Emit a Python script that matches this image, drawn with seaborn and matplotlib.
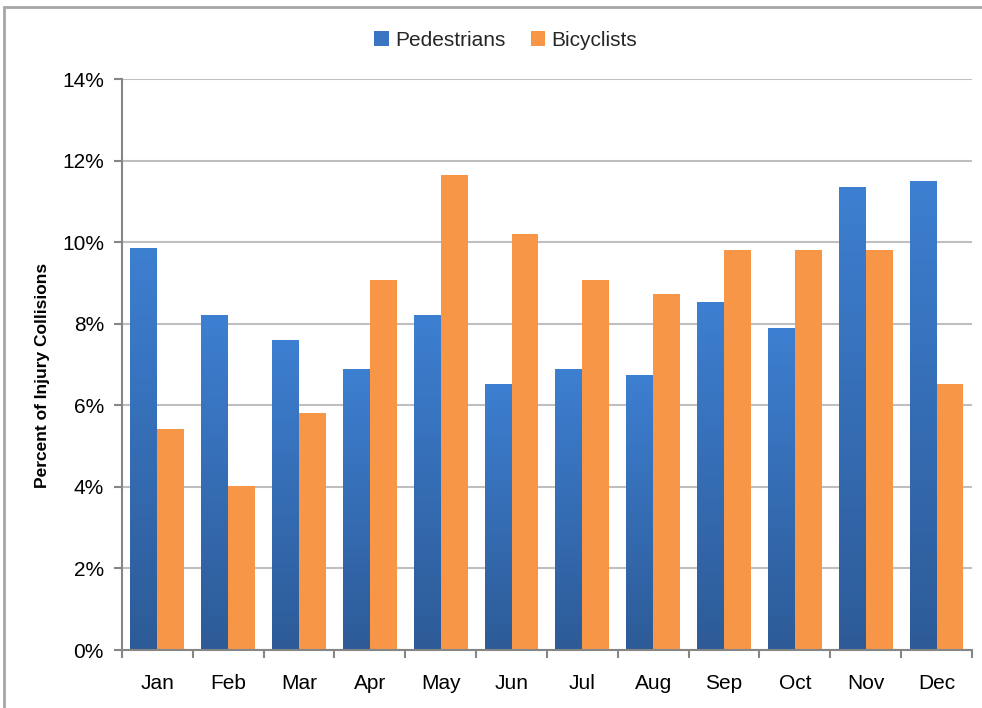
import numpy as np
import pandas as pd
import matplotlib
matplotlib.use('Agg')
import matplotlib.pyplot as plt
import seaborn as sns
from matplotlib.colors import LinearSegmentedColormap
from matplotlib.patches import Rectangle, Patch
from matplotlib.ticker import FuncFormatter, FixedLocator

months = ['Jan', 'Feb', 'Mar', 'Apr', 'May', 'Jun', 'Jul', 'Aug', 'Sep', 'Oct', 'Nov', 'Dec']
pedestrians = [9.85, 8.20, 7.60, 6.87, 8.19, 6.52, 6.87, 6.72, 8.51, 7.89, 11.33, 11.48]
bicyclists = [5.43, 4.01, 5.82, 9.06, 11.65, 10.19, 9.06, 8.72, 9.80, 9.80, 9.80, 6.52]
series = ['Pedestrians', 'Bicyclists']
yticks = [0, 2, 4, 6, 8, 10, 12, 14]

df = pd.DataFrame({
    'month': months * 2,
    'percent': pedestrians + bicyclists,
    'group': [series[0]] * len(months) + [series[1]] * len(months),
})

sns.set_theme(style='white')
plt.rcParams['font.family'] = ['Liberation Sans Narrow', 'Liberation Sans', 'DejaVu Sans']

blue = '#3A74C2'
orange = '#F79646'
gray = '#868686'

fig = plt.figure(figsize=(9.82, 7.08), dpi=100)
ax = fig.add_axes([0.1242, 0.0819, 0.8656, 0.8065])

sns.barplot(data=df, x='month', y='percent', hue='group', order=months, hue_order=series,
            palette={series[0]: blue, series[1]: orange}, width=0.76, saturation=1,
            linewidth=0, ax=ax)
if ax.get_legend():
    ax.get_legend().remove()

# gradient fill on the pedestrian bars (dark bottom -> lighter top)
cmap = LinearSegmentedColormap.from_list('ped', ['#2D5B97', '#3D7FD1'])
grad = np.linspace(0, 1, 256).reshape(-1, 1)
ped_bars = [p for p in ax.patches if p.get_height() > 0 and
            np.allclose(p.get_facecolor()[:3], matplotlib.colors.to_rgb(blue), atol=0.02)]
for p in ped_bars:
    x0, w, h = p.get_x(), p.get_width(), p.get_height()
    ax.imshow(grad, extent=[x0, x0 + w, 0, h], origin='lower', cmap=cmap,
              aspect='auto', interpolation='bilinear', zorder=p.get_zorder() + 0.1)

ax.set_xlim(-0.5, len(months) - 0.5)
ax.set_ylim(0, 14)

ax.set_yticks(yticks)
ax.yaxis.set_major_formatter(FuncFormatter(lambda v, pos: f'{v:.0f}%'))
ax.yaxis.grid(True, color='#BFBFBF', linewidth=1.5)
ax.set_axisbelow(True)

for s in ['top', 'right']:
    ax.spines[s].set_visible(False)
for s in ['left', 'bottom']:
    ax.spines[s].set_color(gray)
    ax.spines[s].set_linewidth(1.5)

ax.tick_params(axis='y', direction='out', length=6, width=1.5, color=gray,
               labelsize=15, labelcolor='black', pad=7, left=True)
ax.xaxis.set_minor_locator(FixedLocator(np.arange(-0.5, len(months), 1)))
ax.tick_params(axis='x', which='major', length=0, labelsize=15, labelcolor='black', pad=17)
ax.tick_params(axis='x', which='minor', direction='out', length=6, width=1.5, color=gray, bottom=True)

ax.set_xlabel('')
ax.set_ylabel('Percent of Injury Collisions', fontsize=12.5, fontweight='bold', color='black')
ax.yaxis.set_label_coords(-0.085, 0.48)

handles = [Patch(facecolor=blue, edgecolor='none'), Patch(facecolor=orange, edgecolor='none')]
fig.legend(handles, series, loc='center', bbox_to_anchor=(0.515, 0.9435), ncol=2,
           frameon=False, fontsize=15, handlelength=0.7, handleheight=0.7,
           handletextpad=0.3, columnspacing=1.2)

# outer chart border
fig.patches.append(Rectangle((0.004, -0.05), 1.1, 1.04, transform=fig.transFigure,
                             fill=False, edgecolor='#A6A6A6', linewidth=2))

fig.savefig('out.png', dpi=100)
